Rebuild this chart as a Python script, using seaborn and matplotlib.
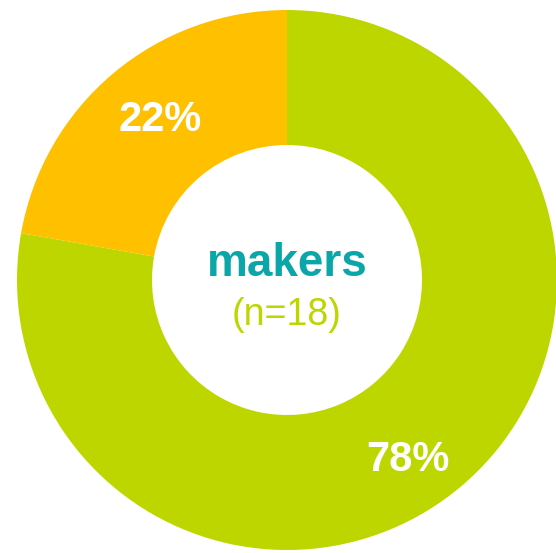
import matplotlib
matplotlib.use("Agg")
import matplotlib.pyplot as plt
import seaborn as sns

sns.set_theme(style="white")
plt.rcParams['font.family'] = ['Liberation Sans', 'DejaVu Sans']

segments = ["makers", "other"]
counts = [14, 4]   # n=18 -> 78% / 22%
seg_colors = ["#BDD600", "#FFC000"]
center_title = "makers"
center_sub = "(n=18)"
# label anchor points, in units of the outer radius
label_pos = [(0.448, -0.667), (-0.47, 0.593)]

W, H = 556, 553
fig = plt.figure(figsize=(W / 100, H / 100), dpi=100)
cx, cy, r = 287, 280, 270
ax = fig.add_axes([(cx - r) / W, (H - cy - r) / H, 2 * r / W, 2 * r / H])

wedges, texts, autotexts = ax.pie(
    counts,
    colors=seg_colors,
    startangle=90,
    counterclock=False,
    radius=1,
    autopct=lambda p: f"{p:.0f}%",
    pctdistance=0.77,
    wedgeprops=dict(width=0.5, edgecolor="none"),
    textprops=dict(color="white", fontsize=30, fontweight="bold"),
)
for t, pos in zip(autotexts, label_pos):
    t.set_position(pos)

ax.text(0, 0.058, center_title, ha="center", va="center",
        fontsize=33, fontweight="bold", color="#0AA6A8")
ax.text(0, -0.13, center_sub, ha="center", va="center",
        fontsize=27, color="#BDD600")

ax.set_xlim(-1, 1)
ax.set_ylim(-1, 1)
ax.set_aspect("equal")
ax.axis("off")

fig.savefig("out.png", dpi=100)
